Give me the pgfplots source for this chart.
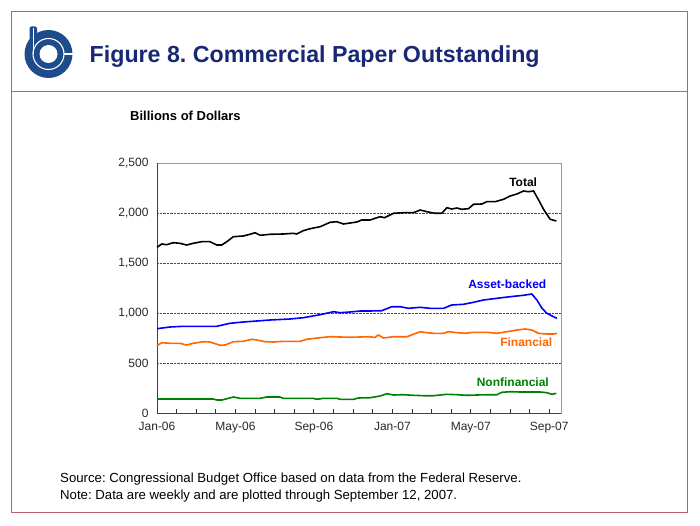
\documentclass[border=0pt]{standalone}
\usepackage{pgfplots}
\pgfplotsset{compat=1.18}
\usepackage{fontspec}
\setmainfont{Liberation Sans}
\definecolor{bordercol}{RGB}{190,95,110}
\definecolor{titlecol}{RGB}{25,40,115}
\definecolor{logocol}{RGB}{30,75,140}
\definecolor{cbblue}{RGB}{0,0,255}
\definecolor{cborange}{RGB}{255,102,0}
\definecolor{cbgreen}{RGB}{0,128,0}
\definecolor{ticktext}{RGB}{40,40,40}
\begin{document}
\frenchspacing
\begin{tikzpicture}[x=1pt,y=1pt]
\fill[white] (0,0) rectangle (700,525);
\draw[bordercol, line width=1pt] (11.7,513.3) rectangle (687.7,12.3);
\draw[bordercol, line width=1pt] (11.7,433.3) -- (687.7,433.3);
% logo
\fill[logocol] (48.5,471) circle (24);
\fill[logocol, rounded corners=2pt] (29.5,471) rectangle (37,498.5);
\draw[white, line width=1.1pt] (48.5,471) circle (15.5);
\draw[white, line width=1.1pt] (33.2,471) -- (33.2,497);
\fill[white] (48.5,471) circle (9);
\draw[white, line width=1.1pt] (64,471) -- (73,471);
\node[anchor=west, inner sep=0pt, text=titlecol, font=\fontsize{23.2}{27}\selectfont\bfseries] at (89.5,468) {Figure 8. Commercial Paper Outstanding};
\node[anchor=west, inner sep=0pt, font=\fontsize{13}{15}\selectfont\bfseries] at (130,409) {Billions of Dollars};
\node[anchor=west, inner sep=0pt, font=\fontsize{13.2}{15}\selectfont] at (60,46) {Source: Congressional Budget Office based on data from the Federal Reserve.};
\node[anchor=west, inner sep=0pt, font=\fontsize{13.2}{15}\selectfont] at (60,29) {Note: Data are weekly and are plotted through September 12, 2007.};
\begin{axis}[
  at={(157pt,112pt)}, anchor=south west,
  scale only axis, width=404pt, height=250pt,
  xmin=0, xmax=20.6, ymin=0, ymax=2500,
  axis line style={draw=gray!80},
  xtick={0,4,8,12,16,20},
  xticklabels={Jan-06,May-06,Sep-06,Jan-07,May-07,Sep-07},
  minor xtick={1,2,3,5,6,7,9,10,11,13,14,15,17,18,19},
  tick align=inside,
  xtick pos=bottom, ytick pos=left,
  major tick length=4pt, minor tick length=4pt,
  every tick/.style={black!80, line width=0.8pt},
  ytick={0,500,1000,1500,2000,2500},
  ytick style={draw=none},
  ymajorgrids,
  grid style={densely dotted, black!70, line width=0.8pt},
  /pgf/number format/assume math mode=true,
  /pgf/number format/1000 sep={,},
  ticklabel style={font=\fontsize{12}{14}\selectfont, text=ticktext},
  xticklabel style={yshift=-6pt},
  yticklabel style={xshift=-5pt},
  clip=false,
]
\draw[black!75, line width=0.8pt] (rel axis cs:0,0) -- (rel axis cs:0,1);
\draw[black!75, line width=0.8pt] (rel axis cs:0,0) -- (rel axis cs:1,0);
\addplot[black, line width=1.6pt] coordinates {
(0,1657) (0.24,1690) (0.49,1683) (0.83,1703) (1.17,1697) (1.51,1680) (1.85,1697) (2.28,1713) (2.70,1713) (3.05,1680) (3.30,1680) (3.56,1713) (3.89,1763) (4.40,1770) (4.74,1787) (5.0,1803) (5.26,1777) (5.77,1787) (6.44,1790) (6.95,1797) (7.12,1790) (7.46,1823) (7.81,1843) (8.32,1863) (8.83,1907) (9.17,1913) (9.51,1890) (9.85,1900) (10.19,1910) (10.44,1930) (10.87,1930) (11.12,1947) (11.38,1963) (11.6,1953) (12.06,1997) (12.57,2003) (13.08,2003) (13.42,2030) (13.76,2013) (14.18,1997) (14.52,1997) (14.78,2053) (15.03,2040) (15.29,2050) (15.54,2037) (15.88,2043) (16.14,2087) (16.56,2090) (16.82,2113) (17.24,2113) (17.67,2137) (18.01,2170) (18.35,2190) (18.69,2220) (18.94,2213) (19.2,2220) (19.46,2130) (19.71,2037) (20.05,1937) (20.36,1920)
};
\addplot[cbblue, line width=1.6pt] coordinates {
(0,843) (0.66,860) (1.34,867) (3.05,867) (3.72,897) (4.40,910) (5.09,920) (5.77,930) (6.79,940) (7.46,953) (8.32,983) (9.0,1013) (9.34,1003) (9.85,1010) (10.36,1020) (10.87,1020) (11.46,1023) (11.97,1063) (12.4,1063) (12.82,1047) (13.42,1057) (13.93,1047) (14.61,1047) (15.03,1080) (15.63,1087) (16.14,1107) (16.65,1130) (17.33,1147) (18.01,1163) (18.69,1177) (19.11,1190) (19.37,1130) (19.63,1047) (19.88,997) (20.14,970) (20.39,947)
};
\addplot[cborange, line width=1.6pt] coordinates {
(0,673) (0.24,703) (0.66,697) (1.17,697) (1.51,680) (1.85,697) (2.36,713) (2.7,710) (3.22,677) (3.47,680) (3.9,713) (4.4,717) (4.83,737) (5.09,730) (5.51,713) (5.94,710) (6.44,717) (7.29,717) (7.63,737) (8.32,753) (8.83,763) (9.34,760) (9.85,757) (10.36,760) (10.87,763) (11.1,755) (11.29,780) (11.55,750) (12.06,763) (12.74,763) (13.42,813) (13.76,803) (14.1,797) (14.61,797) (14.86,813) (15.29,803) (15.71,797) (16.14,807) (16.82,807) (17.33,797) (17.84,813) (18.35,830) (18.77,840) (19.11,830) (19.46,797) (19.88,790) (20.22,790) (20.39,797)
};
\addplot[cbgreen, line width=1.6pt] coordinates {
(0,140) (1.34,140) (2.87,140) (3.05,130) (3.3,130) (3.65,147) (3.9,160) (4.23,147) (5.26,147) (5.6,160) (6.27,160) (6.44,147) (7.97,147) (8.15,137) (8.49,147) (9.17,147) (9.34,137) (10.02,137) (10.27,150) (10.87,153) (11.38,170) (11.72,193) (12.06,180) (12.57,183) (13.08,177) (13.59,173) (14.1,173) (14.78,187) (15.29,183) (15.8,177) (16.31,180) (16.99,183) (17.33,183) (17.58,207) (18.01,213) (18.52,210) (19.03,210) (19.54,210) (19.88,203) (20.14,187) (20.36,197)
};
\node[font=\fontsize{12}{14}\selectfont\bfseries, text=black] at (axis cs:18.67,2310) {Total};
\node[font=\fontsize{12}{14}\selectfont\bfseries, text=cbblue] at (axis cs:17.86,1290) {Asset-backed};
\node[font=\fontsize{12}{14}\selectfont\bfseries, text=cborange] at (axis cs:18.83,710) {Financial};
\node[font=\fontsize{12}{14}\selectfont\bfseries, text=cbgreen] at (axis cs:18.14,310) {Nonfinancial};
\end{axis}
\end{tikzpicture}
\end{document}
